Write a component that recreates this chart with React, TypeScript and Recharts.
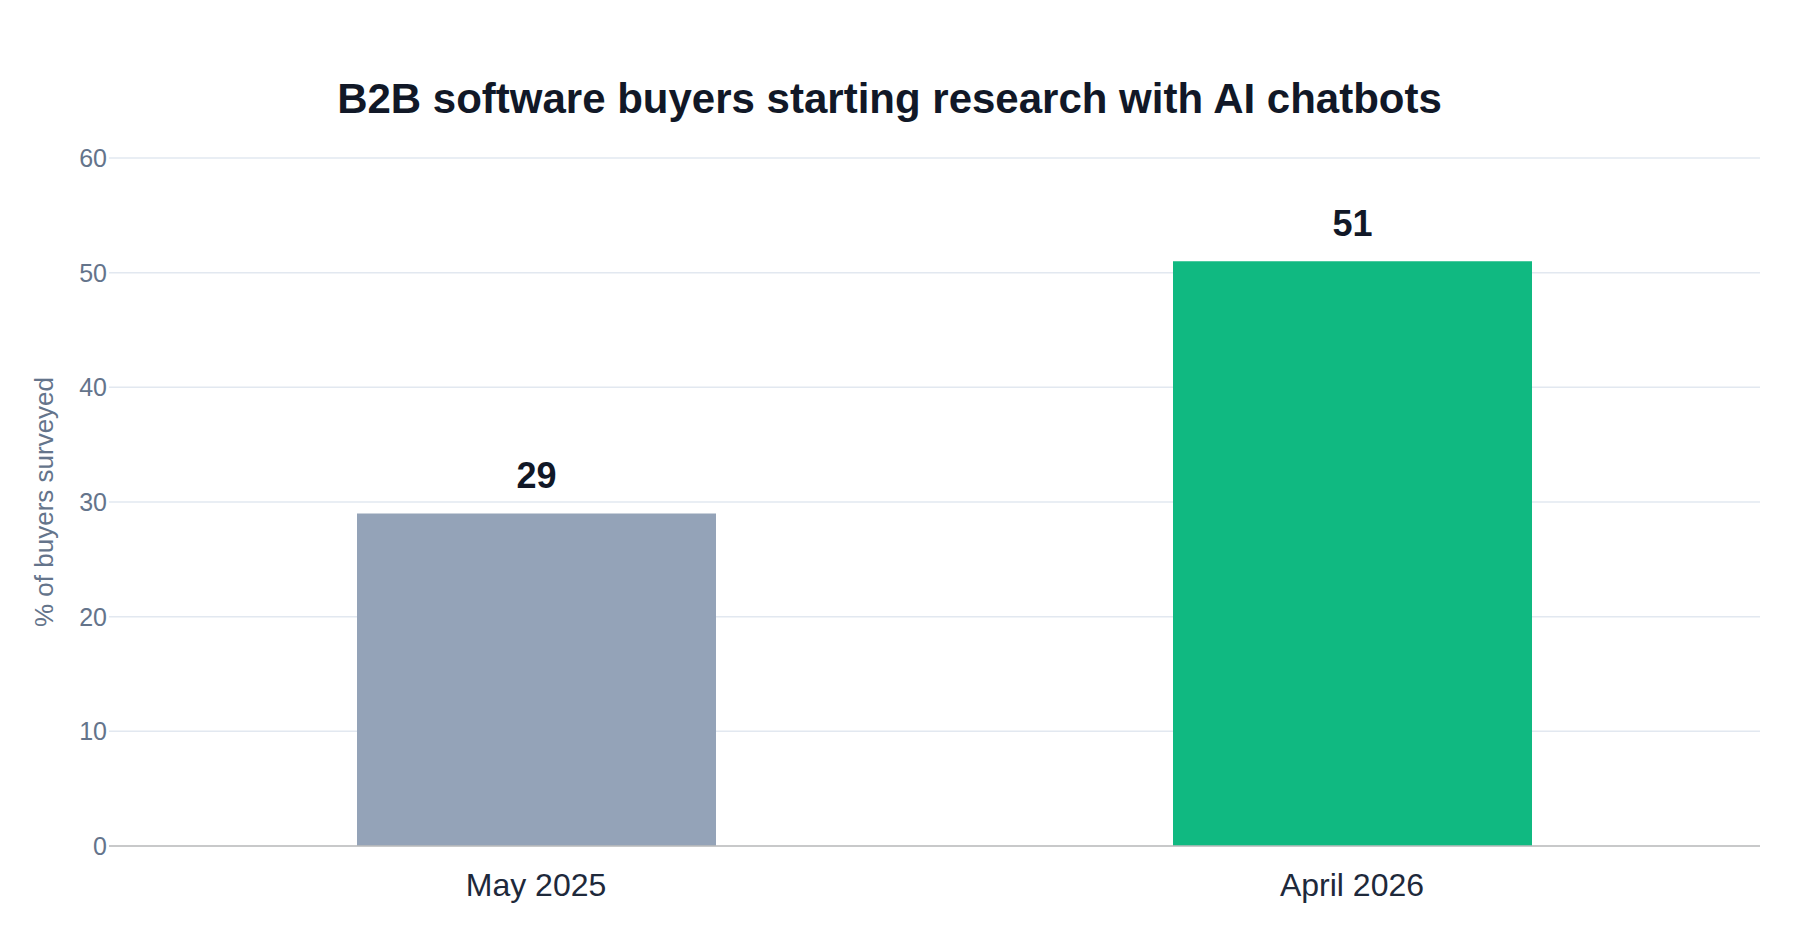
import React from "react";
import { BarChart, Bar, XAxis, YAxis, CartesianGrid, Cell, LabelList } from "recharts";

const CATEGORIES = ["May 2025", "April 2026"];
const VALUES = [29, 51];
const Y_TICKS = [0, 10, 20, 30, 40, 50, 60];
const TITLE = "B2B software buyers starting research with AI chatbots";
const Y_TITLE = "% of buyers surveyed";

const BAR_COLORS = ["#94a3b8", "#10b981"];
const FONT = "'Liberation Sans', Arial, Helvetica, sans-serif";

const data = CATEGORIES.map((c, i) => ({ category: c, value: VALUES[i] }));

const YTitle = (props: any) => {
  const vb = props.viewBox || {};
  const x = (vb.x || 0) + 53;
  const y = (vb.y || 0) + (vb.height || 0) / 2;
  return (
    <text
      x={x}
      y={y}
      transform={`rotate(-90, ${x}, ${y})`}
      textAnchor="middle"
      fill="#64748b"
      fontSize={26}
      fontFamily={FONT}
    >
      {Y_TITLE}
    </text>
  );
};

export default function App() {
  return (
    <div
      style={{
        position: "absolute",
        left: 0,
        top: 0,
        width: 1800,
        height: 940,
        background: "#ffffff",
        fontFamily: FONT,
      }}
    >
      <div
        style={{
          position: "absolute",
          left: 0,
          top: 78,
          width: 1779,
          textAlign: "center",
          fontSize: 42,
          lineHeight: "42px",
          fontWeight: 700,
          color: "#111827",
          fontFamily: FONT,
          whiteSpace: "nowrap",
        }}
      >
        {TITLE}
      </div>
      <BarChart
        width={1800}
        height={940}
        data={data}
        margin={{ top: 158, right: 40, bottom: 34, left: 0 }}
        barCategoryGap={0}
      >
        <CartesianGrid vertical={false} stroke="#e2e8f0" strokeWidth={1.5} />
        <XAxis
          dataKey="category"
          height={60}
          padding={{ left: 19, right: 0 }}
          tickLine={false}
          tickSize={0}
          tickMargin={27}
          axisLine={{ stroke: "#bdbdbd", strokeWidth: 1.5 }}
          tick={{ fill: "#1e293b", fontSize: 32, fontFamily: FONT }}
        />
        <YAxis
          width={109}
          domain={[0, 60]}
          ticks={Y_TICKS}
          interval={0}
          axisLine={false}
          tickLine={false}
          tickSize={0}
          tickMargin={2}
          tick={{ fill: "#64748b", fontSize: 25, fontFamily: FONT }}
          label={<YTitle />}
        />
        <Bar dataKey="value" barSize={359} isAnimationActive={false}>
          {data.map((d, i) => (
            <Cell key={d.category} fill={BAR_COLORS[i]} />
          ))}
          <LabelList
            dataKey="value"
            position="top"
            offset={25}
            fill="#111827"
            fontSize={36}
            fontWeight={700}
            fontFamily={FONT}
          />
        </Bar>
      </BarChart>
    </div>
  );
}
